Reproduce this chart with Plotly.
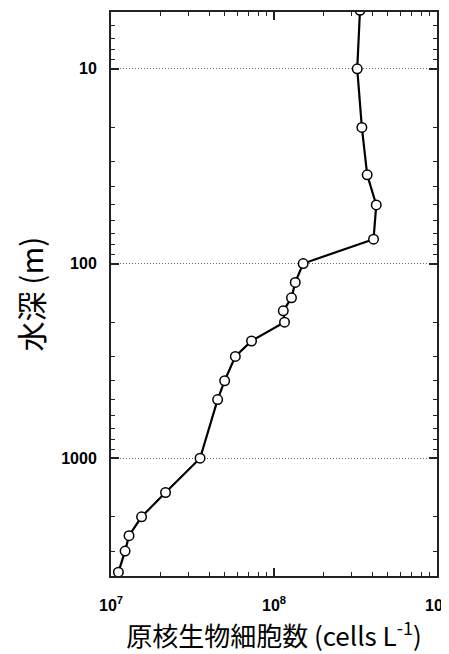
import plotly.graph_objects as go

# Prokaryotic cell counts (cells L-1) vs depth (m)
cells = [3.37e8, 3.24e8, 3.46e8, 3.73e8, 4.24e8, 4.08e8, 1.51e8, 1.35e8, 1.28e8,
         1.14e8, 1.16e8, 7.28e7, 5.79e7, 4.98e7, 4.51e7, 3.52e7, 2.16e7, 1.54e7,
         1.29e7, 1.22e7, 1.11e7]
depth = [5, 10, 20, 35, 50, 75, 100, 125, 150, 175, 200, 250, 300, 400, 500,
         1000, 1500, 2000, 2500, 3000, 3850]

x_tickvals = [1e7, 1e8, 1e9]
x_ticktext = ["10<sup>7</sup>", "10<sup>8</sup>", "10<sup>9</sup>"]
y_tickvals = [10, 100, 1000]
y_ticktext = ["10", "100", "1000"]

fig = go.Figure()
fig.add_trace(go.Scatter(
    x=cells, y=depth, mode="lines+markers",
    line=dict(color="black", width=2.2),
    marker=dict(size=9.5, color="white", line=dict(color="black", width=1.5)),
    showlegend=False,
))

tickfont = dict(family="Liberation Sans, Arial, sans-serif", size=16, color="black", weight="bold")

fig.update_xaxes(
    type="log", range=[7, 9], automargin=False, ticklabeloverflow="allow",
    tickvals=x_tickvals, ticktext=x_ticktext,
    ticks="inside", ticklen=8, tickwidth=1.5, tickcolor="#222",
    minor=dict(ticks="inside", ticklen=4, tickwidth=1.2, tickcolor="#222", dtick="D1", showgrid=False),
    showline=True, linecolor="#222", linewidth=2, mirror="ticks",
    showgrid=False, zeroline=False,
    tickfont=tickfont, ticklabelstandoff=14,
    title=dict(text="原核生物細胞数 (cells L<sup>-1</sup>)",
               font=dict(family="Noto Sans CJK JP", size=26, color="black"),
               standoff=14),
)
fig.update_yaxes(
    type="log", range=[3.605, 0.708], automargin=False,
    tickvals=y_tickvals, ticktext=y_ticktext,
    ticks="inside", ticklen=8, tickwidth=1.5, tickcolor="#222",
    minor=dict(ticks="inside", ticklen=4, tickwidth=1.2, tickcolor="#222", dtick="D1", showgrid=False),
    showline=True, linecolor="#222", linewidth=2, mirror="ticks",
    showgrid=True, gridcolor="#666", gridwidth=1, griddash="1px,2px", zeroline=False,
    tickfont=tickfont, ticklabelstandoff=9,
    title=dict(text="水深 (m)",
               font=dict(family="Noto Sans CJK JP", size=30, color="black"),
               standoff=17),
)

fig.update_layout(
    width=441, height=646,
    margin=dict(l=103, r=12, t=4, b=78),
    paper_bgcolor="white", plot_bgcolor="white",
)

fig.write_html("out.html")
